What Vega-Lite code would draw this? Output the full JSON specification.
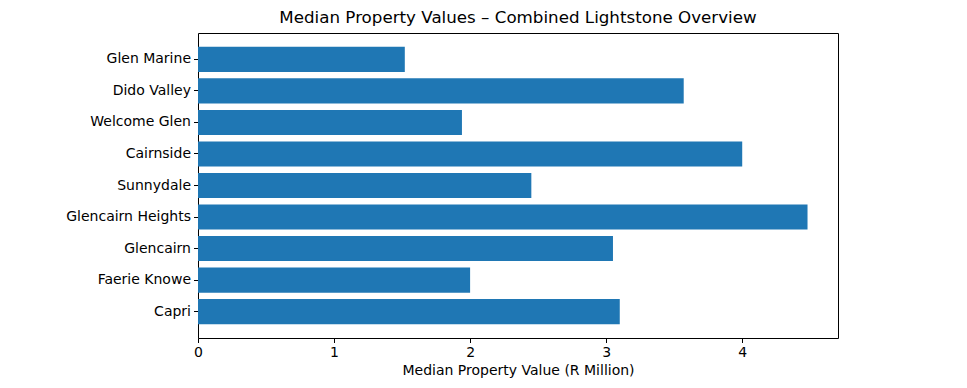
{
  "$schema": "https://vega.github.io/schema/vega-lite/v6.json",
  "autosize": {"type": "none"},
  "padding": {"left": 198, "top": 33, "right": 129, "bottom": 50},
  "width": 640,
  "height": 305,
  "background": "white",
  "title": {
    "text": "Median Property Values – Combined Lightstone Overview",
    "font": "DejaVu Sans",
    "fontSize": 16.7,
    "fontWeight": "normal",
    "color": "black",
    "anchor": "middle",
    "offset": 6
  },
  "data": {
    "values": [
      {"suburb": "Glen Marine", "value": 1.52},
      {"suburb": "Dido Valley", "value": 3.57},
      {"suburb": "Welcome Glen", "value": 1.94},
      {"suburb": "Cairnside", "value": 4.0},
      {"suburb": "Sunnydale", "value": 2.45},
      {"suburb": "Glencairn Heights", "value": 4.48},
      {"suburb": "Glencairn", "value": 3.05},
      {"suburb": "Faerie Knowe", "value": 2.0},
      {"suburb": "Capri", "value": 3.1}
    ]
  },
  "mark": {"type": "bar", "color": "#1f77b4"},
  "encoding": {
    "y": {
      "field": "suburb",
      "type": "nominal",
      "sort": null,
      "scale": {"paddingInner": 0.2, "paddingOuter": 0.44},
      "axis": {
        "title": null,
        "labelFont": "DejaVu Sans",
        "labelFontSize": 14,
        "labelColor": "black",
        "tickColor": "black",
        "tickSize": 4.5,
        "labelPadding": 3,
        "domain": false,
        "grid": false
      }
    },
    "x": {
      "field": "value",
      "type": "quantitative",
      "scale": {"domain": [0, 4.704], "nice": false, "zero": true},
      "axis": {
        "title": "Median Property Value (R Million)",
        "titleFont": "DejaVu Sans",
        "titleFontSize": 14,
        "titleFontWeight": "normal",
        "titleColor": "black",
        "titlePadding": 4,
        "values": [0, 1, 2, 3, 4],
        "format": "d",
        "labelFlush": false,
        "labelFont": "DejaVu Sans",
        "labelFontSize": 14,
        "labelColor": "black",
        "labelPadding": 3,
        "tickColor": "black",
        "tickSize": 4.5,
        "domain": false,
        "grid": false
      }
    }
  },
  "config": {
    "view": {"stroke": "black", "strokeWidth": 1}
  }
}
